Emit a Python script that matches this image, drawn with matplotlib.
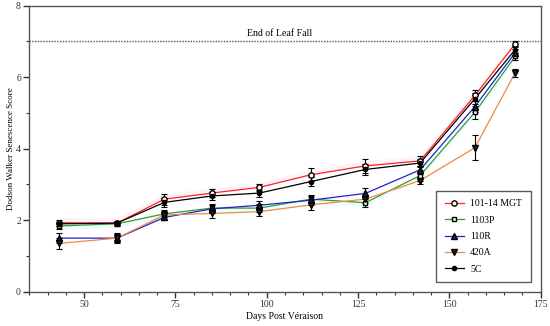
import matplotlib.pyplot as plt
import numpy as np
from matplotlib.ticker import MultipleLocator

days = [43, 59, 72, 85, 98, 112, 127, 142, 157, 168]

mgt = [1.93, 1.92, 2.59, 2.76, 2.92, 3.27, 3.52, 3.66, 5.49, 6.93]
p1103 = [1.84, 1.90, 2.18, 2.34, 2.34, 2.59, 2.49, 3.25, 5.02, 6.58]
r110 = [1.50, 1.50, 2.08, 2.32, 2.42, 2.56, 2.75, 3.41, 5.18, 6.68]
a420 = [1.35, 1.50, 2.15, 2.19, 2.24, 2.43, 2.59, 3.11, 4.03, 6.12]
c5 = [1.90, 1.92, 2.50, 2.68, 2.76, 3.08, 3.42, 3.60, 5.40, 6.77]

mgt_err = [0.08, 0.06, 0.15, 0.12, 0.10, 0.18, 0.20, 0.15, 0.16, 0.08]
p1103_err = [0.08, 0.06, 0.10, 0.12, 0.12, 0.12, 0.12, 0.15, 0.18, 0.10]
r110_err = [0.15, 0.15, 0.08, 0.12, 0.12, 0.12, 0.15, 0.12, 0.15, 0.10]
a420_err = [0.15, 0.12, 0.12, 0.12, 0.12, 0.15, 0.12, 0.10, 0.35, 0.12]
c5_err = [0.06, 0.06, 0.12, 0.10, 0.10, 0.12, 0.15, 0.12, 0.15, 0.10]

labels = ["101-14 MGT", "1103P", "110R", "420A", "5C"]

plt.rcParams['font.family'] = ['Liberation Serif', 'DejaVu Serif']

fig = plt.figure(figsize=(5.5, 3.26), dpi=100)
ax = fig.add_axes([0.0533, 0.105, 0.9297, 0.8775])

series = [
    (mgt, mgt_err, "#ff2020", "o", "white", 3.8),
    (p1103, p1103_err, "#2ca02c", "s", "white", 3.4),
    (r110, r110_err, "#2020d0", "^", "#202040", 3.8),
    (a420, a420_err, "#f08a40", "v", "#202020", 3.8),
    (c5, c5_err, "#000000", "o", "black", 3),
]

# faint bands
ax.fill_between(days, mgt, np.array(mgt) + 0.15, color="#ff9ad0", alpha=0.12, lw=0)
ax.fill_between(days, p1103, np.array(p1103) - 0.1, color="#7fe0f0", alpha=0.12, lw=0)

for (y, e, col, m, fc, ms), lab in zip(series, labels):
    ax.plot(days, y, color=col, lw=0.9, zorder=2)
    ax.errorbar(days, y, yerr=e, fmt="none", ecolor="black", elinewidth=0.8,
                capsize=2, capthick=0.8, zorder=3)
    ax.plot(days, y, ls="none", marker=m, ms=ms, mfc=fc, mec="black",
            mew=1.0, zorder=4)
    ax.plot([], [], color=col, lw=0.9, marker=m, ms=ms, mfc=fc, mec="black",
            mew=1.0, label=lab)

ax.axhline(7, color="#555555", lw=1.0, ls=(0, (1, 1)), zorder=1)
ax.text(103.5, 7.1, "End of Leaf Fall", ha="center", va="bottom", fontsize=7)

ax.set_xlim(35, 175)
ax.set_ylim(0, 8)
ax.xaxis.set_major_locator(MultipleLocator(25))
ax.xaxis.set_minor_locator(MultipleLocator(5))
ax.yaxis.set_major_locator(MultipleLocator(2))
ax.yaxis.set_minor_locator(MultipleLocator(1))
ax.set_xticks([50, 75, 100, 125, 150, 175])
ax.tick_params(which="major", length=4, width=1, labelsize=7, colors="#333333", pad=2)
ax.tick_params(which="minor", length=2.5, width=0.8, colors="#333333")
for s in ax.spines.values():
    s.set_color("#555555")
    s.set_linewidth(1.0)

ax.set_xlabel("Days Post Véraison", fontsize=7, labelpad=2)
ax.set_ylabel("Dodson Walker Senescence Score", fontsize=6.5, labelpad=1)

leg = ax.legend(loc="lower right", bbox_to_anchor=(0.9805, 0.033), fontsize=7,
                frameon=True, fancybox=False, edgecolor="#333333",
                handlelength=2.0, labelspacing=0.75, borderpad=0.9,
                handletextpad=0.6, borderaxespad=0)
leg.get_frame().set_linewidth(1.0)

fig.savefig("out.png", dpi=100)
